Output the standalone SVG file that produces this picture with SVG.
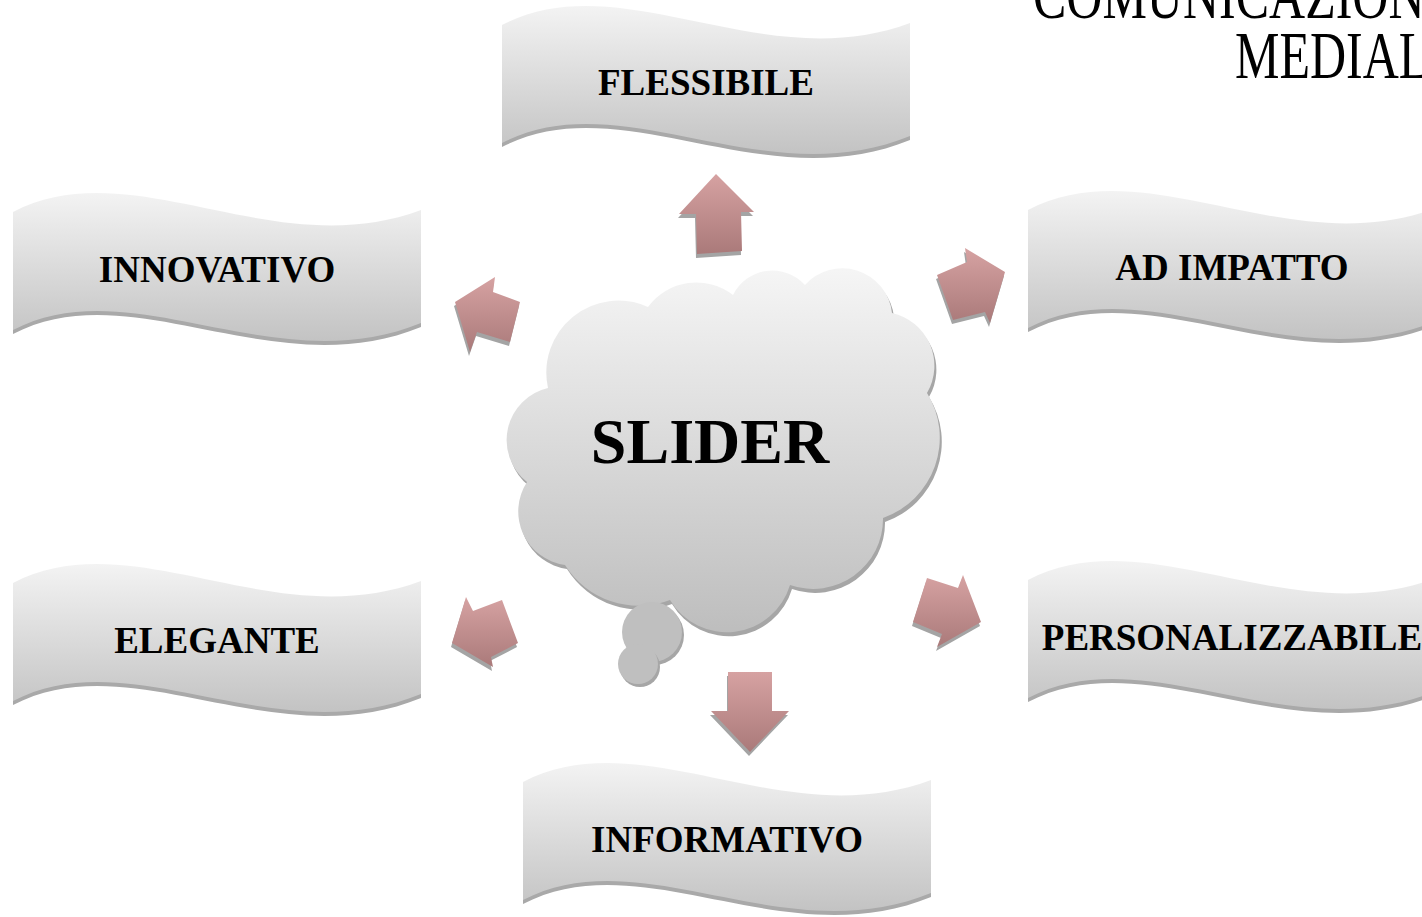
<svg xmlns="http://www.w3.org/2000/svg" xmlns:xlink="http://www.w3.org/1999/xlink" width="1422" height="917" viewBox="0 0 1422 917">
<defs>
<linearGradient id="gBan" x1="0" y1="0" x2="0" y2="1"><stop offset="0" stop-color="#f3f3f3"/><stop offset="1" stop-color="#c3c3c3"/></linearGradient>
<linearGradient id="gCloud" gradientUnits="userSpaceOnUse" x1="0" y1="270" x2="0" y2="635"><stop offset="0" stop-color="#f5f5f5"/><stop offset="1" stop-color="#bdbdbd"/></linearGradient>
<linearGradient id="gArr" x1="0" y1="0" x2="0" y2="1"><stop offset="0" stop-color="#d6a2a2"/><stop offset="1" stop-color="#aa7a7a"/></linearGradient>
<path id="wave" d="M0,22 C120,-40 260,75 408,20 L408,133 C260,193 120,78 0,140 Z"/>
<path id="aUp" d="M716,174 L754,212 L741,212 L742,251 L697,254 L696,214 L679,214 Z"/>
<path id="aDown" d="M728,672 L772,672 L772,711 L789,711 L750,752 L711,711 L728,711 Z"/>
<path id="aUL" d="M455,302 L495,277 L493,292 L520,302 L510,342 L477,332 L470,352 Z"/>
<path id="aUR" d="M1005,272 L965,248 L967,262 L937,275 L953,320 L985,312 L990,323 Z"/>
<path id="aLL" d="M452,643 L466,597 L473,611 L502,600 L518,643 L491,657 L493,667 Z"/>
<path id="aLR" d="M981,622 L963,575 L958,588 L927,578 L913,622 L942,634 L937,647 Z"/>
<path id="cloud" d="M527,482 A53.4,53.4 0 0 1 548,388 A72,72 0 0 1 648,307 A60,60 0 0 1 733,295 A44,44 0 0 1 805,285 A50,50 0 0 1 892,313 A54,54 0 0 1 927,393 A85,85 0 0 1 883,518 A70,70 0 0 1 790,585 A66,66 0 0 1 670,600 A87,87 0 0 1 565,565 A54,54 0 0 1 527,482 Z"/>
</defs>
<style>
.ban{fill:url(#gBan);}
.bsh{fill:#a9a9a9;}
.lbl{font-family:"Liberation Serif","Times New Roman",serif;font-weight:bold;font-size:37px;fill:#000;text-anchor:middle;}
.arr{fill:url(#gArr);}
.ash{fill:#a4a4a4;}
.ttl{font-family:"Liberation Serif","Times New Roman",serif;font-size:50px;fill:#000;}
</style>
<rect width="1422" height="917" fill="#ffffff"/>

<g id="title">
<text class="ttl" transform="translate(1033,18) scale(1,1.35)">COMUNICAZIONI</text>
<text class="ttl" transform="translate(1235,78) scale(1,1.35)">MEDIALI</text>
</g>

<g id="node-flessibile" transform="translate(502,3)">
<use xlink:href="#wave" class="bsh" transform="translate(0,4)"/>
<use xlink:href="#wave" class="ban"/>
<text class="lbl" x="204" y="92">FLESSIBILE</text>
</g>
<g id="node-innovativo" transform="translate(13,190)">
<use xlink:href="#wave" class="bsh" transform="translate(0,4)"/>
<use xlink:href="#wave" class="ban"/>
<text class="lbl" x="204" y="92">INNOVATIVO</text>
</g>
<g id="node-adimpatto" transform="translate(1028,188)">
<use xlink:href="#wave" class="bsh" transform="translate(0,4)"/>
<use xlink:href="#wave" class="ban"/>
<text class="lbl" x="204" y="92">AD IMPATTO</text>
</g>
<g id="node-elegante" transform="translate(13,561)">
<use xlink:href="#wave" class="bsh" transform="translate(0,4)"/>
<use xlink:href="#wave" class="ban"/>
<text class="lbl" x="204" y="92">ELEGANTE</text>
</g>
<g id="node-personalizzabile" transform="translate(1028,558)">
<use xlink:href="#wave" class="bsh" transform="translate(0,4)"/>
<use xlink:href="#wave" class="ban"/>
<text class="lbl" x="204" y="92">PERSONALIZZABILE</text>
</g>
<g id="node-informativo" transform="translate(523,760)">
<use xlink:href="#wave" class="bsh" transform="translate(0,4)"/>
<use xlink:href="#wave" class="ban"/>
<text class="lbl" x="204" y="92">INFORMATIVO</text>
</g>

<g id="node-slider">
<use xlink:href="#cloud" fill="#a6a6a6" transform="translate(2,4)"/>
<use xlink:href="#cloud" fill="url(#gCloud)"/>
<ellipse cx="654" cy="635" rx="30" ry="30" fill="#a6a6a6"/>
<ellipse cx="652" cy="632" rx="30" ry="30" fill="#bfbfbf"/>
<circle cx="640" cy="667" r="20" fill="#a6a6a6"/>
<circle cx="638" cy="664" r="20" fill="#bfbfbf"/>
<text x="710" y="463" font-family="Liberation Serif, Times New Roman, serif" font-weight="bold" font-size="64" text-anchor="middle" fill="#000">SLIDER</text>
</g>

<g id="connectors">
<use xlink:href="#aUp" class="ash" transform="translate(-1,4)"/>
<use xlink:href="#aUp" class="arr"/>
<use xlink:href="#aDown" class="ash" transform="translate(-1,4)"/>
<use xlink:href="#aDown" class="arr"/>
<use xlink:href="#aUL" class="ash" transform="translate(-1,4)"/>
<use xlink:href="#aUL" class="arr"/>
<use xlink:href="#aUR" class="ash" transform="translate(-1,4)"/>
<use xlink:href="#aUR" class="arr"/>
<use xlink:href="#aLL" class="ash" transform="translate(-1,4)"/>
<use xlink:href="#aLL" class="arr"/>
<use xlink:href="#aLR" class="ash" transform="translate(-1,4)"/>
<use xlink:href="#aLR" class="arr"/>
</g>
</svg>
